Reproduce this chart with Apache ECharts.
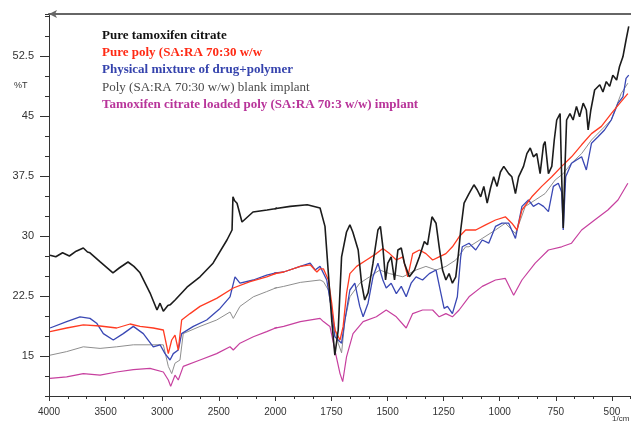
<!DOCTYPE html>
<html>
<head>
<meta charset="utf-8">
<script src="https://cdn.jsdelivr.net/npm/echarts@6/dist/echarts.min.js"></script>
<style>
  html, body { margin: 0; padding: 0; background: #fff; overflow: hidden; }
  #chart { width: 671px; height: 426px; }
</style>
</head>
<body>
<div id="chart"></div>
<script>
// [wavenumber 1/cm, %T]
const pureTamoxifen = [
  [3991,27.6],[3940,27.4],[3880,27.9],[3820,27.5],[3760,28.1],[3697,28.5],[3660,28.0],[3638,27.9],
  [3550,26.8],[3435,25.4],[3380,26.0],[3302,26.75],[3250,26.2],[3196,25.4],[3108,22.9],[3046,20.75],
  [3019,21.6],[2990,20.6],[2975,20.4],[2950,21.3],[2930,21.4],[2886,22.0],[2781,23.6],[2666,24.9],
  [2551,26.6],[2428,29.5],[2383,30.75],[2375,34.9],[2360,34.4],[2339,34.1],[2295,31.75],[2198,33.0],
  [2074,33.25],[2004,33.4],[1934,33.7],[1858,33.9],[1801,33.5],[1793,33.5],[1779,31.2],[1765,25.75],
  [1749,19.5],[1735,15.1],[1720,18.25],[1705,27.4],[1683,30.5],[1668,31.4],[1655,30.5],[1631,28.25],
  [1616,24.1],[1602,22.0],[1587,22.9],[1565,26.6],[1543,30.75],[1532,31.2],[1521,28.65],[1509,24.5],
  [1499,26.6],[1484,27.4],[1469,24.5],[1454,28.25],[1439,28.5],[1425,26.6],[1403,24.9],[1380,25.75],
  [1358,27.4],[1336,29.3],[1322,28.9],[1302,32.4],[1284,31.6],[1270,28.65],[1255,25.75],[1240,24.5],
  [1226,25.3],[1211,24.1],[1196,24.9],[1184,27.8],[1174,30.75],[1159,34.1],[1137,35.3],[1115,36.4],
  [1100,35.75],[1085,34.9],[1071,36.2],[1056,34.1],[1041,36.0],[1027,37.4],[1012,36.2],[997,38.0],
  [982,38.7],[960,37.8],[946,37.4],[930,35.3],[916,37.4],[894,38.7],[879,40.3],[864,41.0],[850,39.9],
  [835,40.3],[820,37.8],[805,41.4],[798,41.8],[783,37.8],[768,38.7],[757,42.0],[746,44.5],[731,45.3],
  [724,37.4],[717,31.0],[710,38.0],[702,44.5],[687,45.3],[673,44.5],[658,46.2],[644,44.9],[628,46.6],
  [614,45.75],[606,43.25],[594,45.75],[577,48.25],[554,48.9],[540,48.0],[525,49.3],[510,48.7],
  [496,50.1],[479,49.5],[466,51.2],[451,52.4],[437,54.5],[425,56.2]
];

const purePoly = [
  [3991,18.05],[3844,18.5],[3697,18.9],[3549,18.75],[3402,18.5],[3284,19.0],[3196,18.7],[3079,18.5],
  [2990,18.25],[2946,15.3],[2916,17.0],[2887,17.6],[2858,15.75],[2828,19.5],[2754,20.3],[2666,21.2],
  [2519,22.2],[2372,23.5],[2224,24.3],[2077,24.9],[1963,25.5],[1889,26.2],[1845,26.4],[1815,25.5],
  [1801,25.9],[1786,25.9],[1764,24.5],[1749,21.6],[1735,18.25],[1712,17.0],[1698,18.7],[1683,22.8],
  [1668,25.3],[1638,26.2],[1594,27.0],[1550,27.8],[1521,28.45],[1491,27.8],[1461,27.0],[1432,27.4],
  [1410,24.9],[1388,27.8],[1358,28.25],[1329,27.8],[1299,27.0],[1270,27.4],[1240,27.8],[1211,28.65],
  [1181,29.9],[1152,30.75],[1107,30.75],[1063,31.4],[1019,32.0],[975,32.4],[946,31.6],[923,30.75],
  [901,33.25],[857,34.9],[813,36.2],[768,37.4],[724,38.7],[680,39.9],[635,41.4],[591,42.8],
  [547,43.7],[503,45.3],[459,46.8],[429,47.8]
];

const physicalMixture = [
  [3991,18.5],[3844,19.3],[3726,19.9],[3638,19.7],[3579,19.1],[3520,17.8],[3432,17.0],[3344,17.8],
  [3255,18.7],[3167,17.8],[3079,16.15],[3019,16.4],[2975,15.3],[2931,14.5],[2902,15.3],[2858,15.75],
  [2828,17.8],[2725,18.7],[2607,19.5],[2489,20.95],[2401,22.4],[2357,24.9],[2313,24.1],[2195,24.5],
  [2077,25.1],[1963,25.5],[1889,26.2],[1845,26.6],[1823,25.75],[1801,26.2],[1771,24.5],[1749,20.75],
  [1735,17.4],[1720,17.0],[1705,16.6],[1690,19.5],[1668,23.25],[1646,24.1],[1624,21.2],[1609,19.9],
  [1587,21.6],[1565,24.9],[1543,26.6],[1521,24.5],[1506,23.5],[1484,24.1],[1461,22.8],[1439,23.7],
  [1417,22.4],[1395,24.1],[1373,24.9],[1344,24.5],[1314,25.3],[1284,25.75],[1262,22.8],[1248,20.95],
  [1233,21.2],[1211,20.3],[1189,22.4],[1174,27.4],[1167,28.65],[1137,29.1],[1107,28.25],[1078,29.5],
  [1049,29.1],[1019,31.2],[990,31.6],[960,31.6],[930,29.7],[901,33.7],[872,34.5],[850,33.7],
  [827,34.1],[805,33.7],[783,33.05],[761,36.2],[739,36.6],[724,35.5],[717,30.75],[706,37.4],
  [680,39.1],[658,39.5],[635,39.9],[614,38.25],[591,41.6],[562,42.4],[533,43.25],[503,44.5],
  [473,46.6],[451,47.4],[437,49.7],[425,50.1]
];

const blankImplant = [
  [3991,15.1],[3844,15.55],[3697,16.15],[3549,15.95],[3402,16.15],[3255,16.4],[3108,16.4],[2990,16.4],
  [2946,13.7],[2916,12.8],[2887,14.1],[2843,14.5],[2814,17.8],[2666,18.7],[2519,19.5],[2401,20.5],
  [2372,19.7],[2313,21.2],[2195,22.4],[2077,23.05],[1963,23.7],[1889,24.2],[1801,24.5],[1786,24.3],
  [1764,23.25],[1742,19.5],[1720,16.6],[1705,15.4],[1690,19.5],[1668,22.4],[1624,24.1],[1580,24.9],
  [1535,25.75],[1491,25.3],[1432,24.9],[1373,25.75],[1329,26.2],[1284,25.75],[1240,26.2],[1196,27.0],
  [1152,28.65],[1137,28.65],[1078,29.7],[1019,30.75],[975,31.6],[930,30.3],[886,33.7],[842,34.5],
  [798,35.3],[753,37.0],[717,37.8],[680,39.1],[635,40.3],[591,42.0],[547,43.25],[503,44.5],
  [459,47.8],[429,49.1]
];

const loadedImplant = [
  [3991,12.2],[3844,12.4],[3697,12.8],[3549,12.6],[3402,13.0],[3255,13.3],[3108,13.45],[2990,13.0],
  [2946,12.0],[2925,11.2],[2887,12.6],[2858,12.0],[2814,13.7],[2666,14.5],[2519,15.3],[2401,16.15],
  [2372,15.75],[2313,16.6],[2195,17.4],[2077,18.05],[1963,18.7],[1889,19.3],[1801,19.7],[1786,19.3],
  [1757,18.7],[1735,15.75],[1712,12.8],[1700,11.8],[1683,14.9],[1654,17.8],[1609,19.3],[1550,19.9],
  [1506,20.75],[1461,19.9],[1417,18.5],[1388,20.3],[1344,20.75],[1299,20.75],[1270,19.9],[1240,20.3],
  [1211,19.9],[1181,20.75],[1137,22.4],[1078,23.7],[1019,24.5],[975,24.7],[938,22.6],[901,24.5],
  [842,26.6],[783,28.25],[724,28.65],[680,29.1],[635,30.75],[577,32.0],[518,33.25],[473,34.5],
  [429,36.6]
];

const seriesNames = [
  'Pure tamoxifen citrate',
  'Pure poly (SA:RA 70:30 w/w',
  'Physical mixture of drug+polymer',
  'Poly (SA:RA 70:30 w/w) blank implant',
  'Tamoxifen citrate loaded poly (SA:RA 70:3 w/w) implant'
];
const yTickLabels = [15, 22.5, 30, 37.5, 45, 52.5];

// the x scale changes at 2000 1/cm, so the spectrum is drawn in two grids
const SPLIT = 2000;
function upperPart(points) {
  const i = points.findIndex(p => p[0] < SPLIT);
  return points.slice(0, i + 1);
}
function lowerPart(points) {
  const i = points.findIndex(p => p[0] < SPLIT);
  return points.slice(i - 1);
}

const chart = echarts.init(document.getElementById('chart'));

const lines = [
  { name: seriesNames[4], data: loadedImplant, color: '#c7409f', width: 1.2 },
  { name: seriesNames[3], data: blankImplant, color: '#8e8e8e', width: 1 },
  { name: seriesNames[2], data: physicalMixture, color: '#3a48b4', width: 1.3 },
  { name: seriesNames[1], data: purePoly, color: '#ff3b22', width: 1.3 },
  { name: seriesNames[0], data: pureTamoxifen, color: '#1c1c1c', width: 1.6 }
];

const series = [];
lines.forEach((l, k) => {
  [0, 1].forEach(g => {
    series.push({
      name: l.name,
      type: 'line',
      xAxisIndex: g,
      yAxisIndex: g === 0 ? 0 : 2,
      data: g === 0 ? upperPart(l.data) : lowerPart(l.data),
      showSymbol: false,
      clip: true,
      z: 2 + k,
      lineStyle: { color: l.color, width: l.width },
      itemStyle: { color: l.color }
    });
  });
});

const legendColors = ['#111111', '#ff2a14', '#3543ad', '#4a4a4a', '#b8349a'];
const axisFont = { fontFamily: 'Liberation Sans', color: '#333' };

const option = {
  animation: false,
  backgroundColor: '#fff',
  legend: {
    orient: 'vertical',
    left: 92,
    top: 24,
    itemWidth: 0,
    itemHeight: 12,
    itemGap: 4.2,
    icon: 'none',
    selectedMode: false,
    data: seriesNames.map((n, i) => ({
      name: n,
      textStyle: {
        color: legendColors[i],
        fontFamily: 'Liberation Serif',
        fontWeight: i === 3 ? 'normal' : 'bold',
        fontSize: 13
      }
    }))
  },
  grid: [
    { left: 49, top: 14, width: 226.4, bottom: 30 },
    { left: 275.4, top: 14, right: 0, bottom: 30 }
  ],
  xAxis: [
    {
      type: 'value', gridIndex: 0, inverse: true, min: 2000, max: 4000, interval: 500,
      axisLine: { lineStyle: { color: '#333', width: 1 } },
      axisTick: { length: 5, lineStyle: { color: '#333' } },
      minorTick: { show: true, splitNumber: 3, length: 3, lineStyle: { color: '#333' } },
      splitLine: { show: false },
      axisLabel: Object.assign({ margin: 11, fontSize: 10, formatter: v => String(v) }, axisFont)
    },
    {
      type: 'value', gridIndex: 1, inverse: true, min: 250, max: 2000, interval: 250,
      axisLine: { lineStyle: { color: '#333', width: 1 } },
      axisTick: { length: 5, lineStyle: { color: '#333' } },
      minorTick: { show: true, splitNumber: 3, length: 3, lineStyle: { color: '#333' } },
      splitLine: { show: false },
      axisLabel: Object.assign({
        margin: 11, fontSize: 10,
        formatter: v => (v === 2000 || v === 250) ? '' : String(v)
      }, axisFont)
    },
    {
      type: 'value', gridIndex: 0, position: 'top', inverse: true, min: 2000, max: 4000,
      axisLine: { lineStyle: { color: '#666', width: 2 }, symbol: ['arrow', 'none'], symbolSize: [6, 8] },
      axisTick: { show: false }, axisLabel: { show: false }, splitLine: { show: false }
    },
    {
      type: 'value', gridIndex: 1, position: 'top', inverse: true, min: 250, max: 2000,
      axisLine: { lineStyle: { color: '#666', width: 2 } },
      axisTick: { show: false }, axisLabel: { show: false }, splitLine: { show: false }
    }
  ],
  yAxis: [
    {
      type: 'value', gridIndex: 0, position: 'left', min: 10, max: 57.75,
      axisLine: { show: true, lineStyle: { color: '#333', width: 1 } },
      axisTick: { show: true, customValues: yTickLabels, length: 9, lineStyle: { color: '#333' } },
      axisLabel: Object.assign({ customValues: yTickLabels, margin: 15, fontSize: 11 }, axisFont),
      splitLine: { show: false }
    },
    {
      type: 'value', gridIndex: 0, position: 'left', min: 10, max: 57.75, interval: 2.5,
      axisLine: { show: false },
      axisTick: { show: true, length: 4, lineStyle: { color: '#333' } },
      axisLabel: { show: false },
      splitLine: { show: false }
    },
    {
      type: 'value', gridIndex: 1, min: 10, max: 57.75, show: false
    }
  ],
  graphic: [
    { type: 'text', left: 14, top: 81, style: { text: '%T', font: '9px "Liberation Sans"', fill: '#333' } },
    { type: 'text', left: 612, top: 415, style: { text: '1/cm', font: '8px "Liberation Sans"', fill: '#333' } }
  ],
  series: series
};

chart.setOption(option);
</script>
</body>
</html>
